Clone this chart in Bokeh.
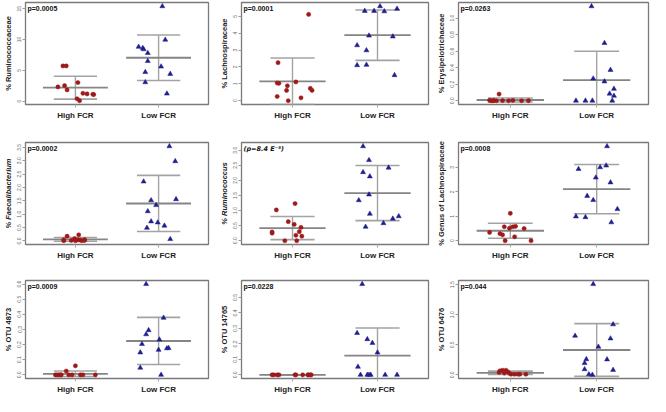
import numpy as np
from bokeh.plotting import figure
from bokeh.layouts import gridplot
from bokeh.models import Range1d, FixedTicker, Label
from bokeh.embed import file_html
from bokeh.resources import INLINE

groups = ["High FCR", "Low FCR"]

# ---- Panel 1: Ruminococcaceae ----
rumfam_label = "% Ruminococcaceae"
rumfam_p = "p=0.0005"
rumfam_ticks = ["0", "5", "10", "15"]
rumfam_high = [5.7, 5.7, 3.0, 2.3, 2.5, 1.8, 1.26, 1.16, 1.1, 1.05, 0.37, 0.05]
rumfam_high_jit = [-0.15, -0.11, 0.03, -0.21, -0.13, -0.10, 0.09, 0.14, 0.21, 0.22, 0.02, 0.05]
rumfam_low = [15.4, 9.95, 8.8, 8.6, 8.4, 7.8, 6.5, 5.6, 4.7, 4.4, 3.05, 1.2]
rumfam_low_jit = [0.045, 0.08, -0.24, -0.19, -0.18, -0.13, -0.13, 0.03, -0.16, 0.14, -0.16, 0.10]

# ---- Panel 2: Lachnospiraceae ----
lach_label = "% Lachnospiraceae"
lach_p = "p=0.0001"
lach_ticks = ["0", "1", "2", "3", "4", "5"]
lach_high = [5.11, 2.25, 1.05, 1.03, 1.11, 0.88, 0.61, 0.73, 0.61, 0.25, 0.17, 0.0]
lach_high_jit = [0.19, -0.17, -0.18, -0.16, 0.04, -0.06, -0.07, 0.21, 0.23, -0.18, 0.10, -0.05]
lach_low = [5.59, 5.31, 5.31, 5.29, 5.44, 3.85, 3.80, 3.28, 2.98, 2.10, 2.12, 1.51]
lach_low_jit = [0.03, -0.15, -0.04, 0.08, 0.23, -0.10, 0.18, -0.24, -0.13, -0.24, -0.13, 0.20]

# ---- Panel 3: Erysipelotrichaceae ----
ery_label = "% Erysipelotrichaceae"
ery_p = "p=0.0263"
ery_ticks = ["0.0", "0.2", "0.4", "0.6", "0.8", "1.0"]
ery_high = [0.08, 0.005, 0.0, 0.003, 0.0, 0.002, 0.0, 0.004, 0.0, 0.001, 0.0]
ery_high_jit = [-0.13, -0.24, -0.22, -0.19, -0.16, -0.09, -0.02, 0.03, 0.13, 0.21, -0.20]
ery_low = [1.143, 0.698, 0.372, 0.267, 0.233, 0.143, 0.085, 0.058, 0.0, 0.0, 0.0, 0.0]
ery_low_jit = [-0.06, 0.09, 0.16, -0.04, 0.09, 0.20, 0.15, 0.20, -0.24, -0.13, -0.05, 0.18]

# ---- Panel 4: Faecalibacterium ----
fae_label = "% Faecalibacterium"
fae_p = "p=0.0002"
fae_ticks = ["0.0", "0.5", "1.0", "1.5", "2.0", "2.5", "3.0", "3.5"]
fae_high = [0.18, 0.23, 0.09, 0.04, 0.01, 0.02, 0.04, 0.03, 0.01, 0.05, 0.02, 0.01]
fae_high_jit = [-0.10, 0.04, -0.01, -0.14, -0.14, -0.05, 0.03, 0.06, 0.08, 0.11, 0.11, 0.0]
fae_low = [3.54, 2.98, 2.22, 1.56, 1.52, 1.34, 1.11, 0.73, 0.69, 0.57, 0.49, 0.07]
fae_low_jit = [0.13, 0.20, -0.18, 0.21, -0.09, -0.03, -0.13, -0.09, -0.01, 0.07, -0.14, 0.14]

# ---- Panel 5: Ruminococcus ----
rum_label = "% Ruminococcus"
rum_p = "(p=8.4 E\u207b\u2075)"
rum_ticks = ["0.0", "0.5", "1.0", "1.5", "2.0", "2.5", "3.0"]
rum_high = [1.23, 1.02, 0.63, 0.54, 0.44, 0.29, 0.25, 0.30, 0.18, 0.15, 0.0, 0.0]
rum_high_jit = [0.03, -0.19, -0.05, 0.02, 0.10, -0.24, -0.24, 0.08, 0.04, 0.11, -0.09, 0.05]
rum_low = [3.13, 2.67, 2.42, 2.27, 2.13, 1.53, 1.34, 0.89, 0.81, 0.73, 0.58, 0.46]
rum_low_jit = [-0.17, -0.10, 0.13, -0.17, -0.09, -0.10, -0.22, -0.09, 0.25, 0.18, 0.07, -0.14]

# ---- Panel 6: Genus of Lachnospiraceae ----
glach_label = "% Genus of Lachnospiraceae"
glach_p = "p=0.0008"
glach_ticks = ["0", "1", "2", "3"]
glach_high = [1.12, 0.57, 0.57, 0.59, 0.51, 0.50, 0.34, 0.29, 0.24, 0.16, 0.0, 0.0]
glach_high_jit = [0.0, -0.07, 0.03, 0.06, -0.01, 0.16, -0.24, -0.12, -0.09, 0.05, -0.06, 0.24]
glach_low = [3.86, 3.07, 3.0, 2.93, 2.58, 2.38, 1.83, 1.66, 1.29, 0.99, 0.96, 0.75]
glach_low_jit = [0.12, 0.11, 0.04, -0.21, -0.01, 0.16, -0.11, -0.04, 0.24, -0.24, -0.13, 0.17]

# ---- Panel 7: OTU 4873 ----
otu1_label = "% OTU 4873"
otu1_p = "p=0.0009"
otu1_ticks = ["0.0", "0.1", "0.2", "0.3", "0.4", "0.5", "0.6"]
otu1_high = [0.06, 0.025, 0.0, 0.0, 0.0, 0.0, 0.0, 0.0, 0.0, 0.0, 0.0, 0.0]
otu1_high_jit = [0.0, -0.11, -0.24, -0.22, -0.20, -0.18, -0.08, -0.04, 0.06, 0.09, 0.24, -0.17]
otu1_low = [0.60, 0.377, 0.295, 0.268, 0.233, 0.204, 0.165, 0.175, 0.177, 0.148, 0.047, 0.0]
otu1_low_jit = [-0.15, 0.06, -0.12, -0.15, 0.01, -0.20, 0.0, 0.10, 0.12, -0.22, -0.22, 0.03]

# ---- Panel 8: OTU 14765 ----
otu2_label = "% OTU 14765"
otu2_p = "p=0.0228"
otu2_ticks = ["0.0", "0.1", "0.2", "0.3", "0.4", "0.5"]
otu2_high = [0.0, 0.0, 0.0, 0.0, 0.0, 0.0, 0.0, 0.0, 0.0, 0.0, 0.0]
otu2_high_jit = [-0.24, -0.22, -0.18, -0.16, 0.03, 0.04, 0.12, 0.18, 0.19, 0.21, 0.22]
otu2_low = [0.586, 0.27, 0.23, 0.206, 0.144, 0.052, 0.0, 0.0, 0.0, 0.0, 0.0, 0.0]
otu2_low_jit = [-0.18, -0.24, -0.12, -0.06, 0.0, -0.23, -0.20, -0.12, -0.08, 0.09, 0.23, -0.10]

# ---- Panel 9: OTU 6476 ----
otu3_label = "% OTU 6476"
otu3_p = "p=0.044"
otu3_ticks = ["0.0", "0.5", "1.0", "1.5"]
otu3_high = [0.067, 0.077, 0.077, 0.05, 0.04, 0.03, 0.01, 0.01, 0.01, 0.01, 0.026, 0.01]
otu3_high_jit = [-0.12, -0.09, -0.05, -0.03, -0.13, -0.07, 0.01, 0.05, 0.11, 0.18, -0.01, 0.09]
otu3_low = [1.51, 0.84, 0.65, 0.605, 0.467, 0.26, 0.256, 0.195, 0.092, 0.082, 0.01, 0.0]
otu3_low_jit = [-0.04, 0.19, -0.25, 0.16, 0.02, -0.12, 0.12, -0.14, -0.14, 0.19, -0.09, -0.05]

panels = [
    (rumfam_label, rumfam_p, rumfam_ticks, rumfam_high, rumfam_high_jit, rumfam_low, rumfam_low_jit, False),
    (lach_label, lach_p, lach_ticks, lach_high, lach_high_jit, lach_low, lach_low_jit, False),
    (ery_label, ery_p, ery_ticks, ery_high, ery_high_jit, ery_low, ery_low_jit, False),
    (fae_label, fae_p, fae_ticks, fae_high, fae_high_jit, fae_low, fae_low_jit, True),
    (rum_label, rum_p, rum_ticks, rum_high, rum_high_jit, rum_low, rum_low_jit, True),
    (glach_label, glach_p, glach_ticks, glach_high, glach_high_jit, glach_low, glach_low_jit, False),
    (otu1_label, otu1_p, otu1_ticks, otu1_high, otu1_high_jit, otu1_low, otu1_low_jit, False),
    (otu2_label, otu2_p, otu2_ticks, otu2_high, otu2_high_jit, otu2_low, otu2_low_jit, False),
    (otu3_label, otu3_p, otu3_ticks, otu3_high, otu3_high_jit, otu3_low, otu3_low_jit, False),
]

# layout
col_w = [216, 216, 218]
col_left = [18, 22, 26]
col_right = [8, 4, 2]
row_h = [134, 136, 126]
row_top = [2, 8, 10]
row_bottom = [30, 26, 14]

FONT = "Liberation Sans"
RED = "#9e1a1a"
BLUE = "#1f1f8c"
MEAN_C = "#858585"
SD_C = "#a3a3a3"
XS, XE = 0.4, 2.6
MEAN_HW, SD_HW = 0.39, 0.26


def make_panel(spec, r, c):
    ylab, ptxt, ticks, hv, hj, lv, lj, ital = spec
    hv = np.asarray(hv, float); lv = np.asarray(lv, float)
    allv = np.concatenate([hv, lv])
    lo, hi = allv.min(), allv.max()
    pad = 0.04 * (hi - lo)
    p = figure(width=col_w[c], height=row_h[r], x_range=Range1d(XS, XE),
               y_range=Range1d(lo - pad, hi + pad), output_backend="svg",
               toolbar_location=None, min_border_left=col_left[c],
               min_border_right=col_right[c], min_border_top=row_top[r],
               min_border_bottom=row_bottom[r])
    p.xgrid.visible = False
    p.ygrid.visible = False
    p.outline_line_color = "#7a7a7a"
    p.outline_line_width = 1.3
    p.background_fill_color = "white"
    p.border_fill_color = "white"

    # stats lines (mean +/- SD)
    xpos = np.array([1.0, 2.0])
    means = np.array([hv.mean(), lv.mean()])
    sds = np.array([hv.std(ddof=1), lv.std(ddof=1)])
    p.segment(x0=xpos, y0=means - sds, x1=xpos, y1=means + sds, line_color=SD_C, line_width=1.4)
    for sgn in (-1, 1):
        p.segment(x0=xpos - SD_HW, y0=means + sgn * sds, x1=xpos + SD_HW, y1=means + sgn * sds,
                  line_color=SD_C, line_width=1.6)
    p.segment(x0=xpos - MEAN_HW, y0=means, x1=xpos + MEAN_HW, y1=means, line_color=MEAN_C, line_width=1.8)

    # points
    p.scatter(x=1.0 + np.asarray(hj), y=hv, marker="circle", size=4.2, fill_color=RED,
              line_color=RED, line_width=0.5)
    p.scatter(x=2.0 + np.asarray(lj), y=lv, marker="triangle", size=5, fill_color=BLUE,
              line_color=BLUE, line_width=0.5)

    # axes
    p.xaxis.ticker = FixedTicker(ticks=[1, 2])
    p.xaxis.major_label_overrides = {1: groups[0], 2: groups[1]}
    p.xaxis.major_label_text_font = FONT
    p.xaxis.major_label_text_font_size = "8px"
    p.xaxis.major_label_text_font_style = "bold"
    p.xaxis.major_label_text_color = "#222222"
    p.xaxis.major_label_standoff = 3
    p.xaxis.axis_line_color = None
    p.xaxis.major_tick_out = 3
    p.xaxis.major_tick_in = 0
    p.xaxis.major_tick_line_color = "#aaaaaa"
    p.xaxis.minor_tick_line_color = None

    tvals = [float(t) for t in ticks]
    p.yaxis.ticker = FixedTicker(ticks=tvals)
    p.yaxis.major_label_overrides = {v: t for v, t in zip(tvals, ticks)}
    p.yaxis.major_label_orientation = "vertical"
    p.yaxis.major_label_text_font = FONT
    p.yaxis.major_label_text_font_size = "5px"
    p.yaxis.major_label_text_color = "#666666"
    p.yaxis.major_label_standoff = 1
    p.yaxis.axis_line_color = None
    p.yaxis.major_tick_out = 3
    p.yaxis.major_tick_in = 0
    p.yaxis.major_tick_line_color = "#999999"
    p.yaxis.minor_tick_line_color = None
    p.yaxis.axis_label = ylab
    p.yaxis.axis_label_text_font = FONT
    p.yaxis.axis_label_text_font_size = "7.5px"
    p.yaxis.axis_label_text_font_style = "bold italic" if ital else "bold"
    p.yaxis.axis_label_text_color = "#222222"
    p.yaxis.axis_label_standoff = 2

    special = ptxt.startswith("(")
    p.add_layout(Label(x=XS, y=hi + pad, text=ptxt, x_offset=2, y_offset=-2,
                       text_baseline="top", text_align="left",
                       text_font="DejaVu Sans" if special else FONT,
                       text_font_size="6.5px" if special else "7px",
                       text_font_style="bold italic" if special else "bold",
                       text_color="#111111"))
    return p


figs = []
for i, spec in enumerate(panels):
    figs.append(make_panel(spec, i // 3, i % 3))

grid = gridplot(figs, ncols=3, toolbar_location=None)

open("out.html", "w").write(file_html(grid, INLINE))
